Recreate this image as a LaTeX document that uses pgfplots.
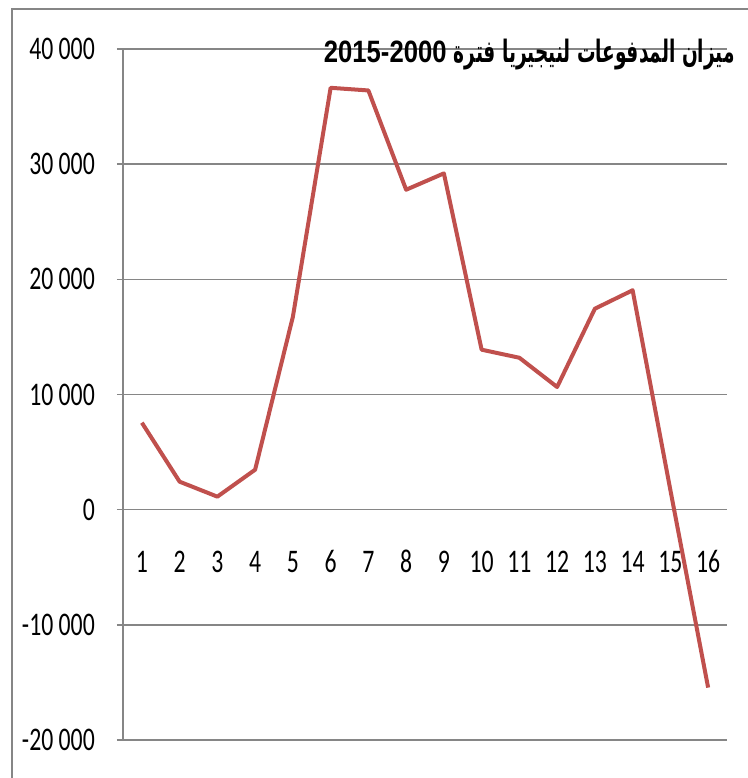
\documentclass[border=0pt]{standalone}
\usepackage{pgfplots}
\pgfplotsset{compat=1.18}
\usepackage{fontspec}
\TeXXeTstate=1
\newfontfamily\tickfont[FakeStretch=0.72]{Carlito}
\newfontfamily\arabicfont[Script=Arabic,FakeStretch=0.6]{DejaVu Sans}
\newfontfamily\titlenum[FakeStretch=0.83]{Liberation Sans}
\definecolor{linered}{RGB}{192,80,77}
\definecolor{gridgray}{RGB}{134,134,134}
\begin{document}
\begin{tikzpicture}
\path[use as bounding box] (0bp,0bp) rectangle (748bp,778bp);
\draw[gridgray, line width=2bp] (12bp,0bp) -- (12bp,769bp) -- (748bp,769bp);
\begin{axis}[
  at={(123bp,38bp)}, anchor=south west, scale only axis,
  width=604bp, height=691bp,
  xmin=0.5, xmax=16.5, ymin=-20000, ymax=40000,
  scaled y ticks=false,
  axis x line*=middle, axis y line*=left,
  xtick={1,...,16},
  xticklabels={1,2,3,4,5,6,7,8,9,10,11,12,13,14,15,16},
  ytick={-20000,-10000,0,10000,20000,30000,40000},
  yticklabels={-20~000,-10~000,0,10~000,20~000,30~000,40~000},
  ymajorgrids, grid style={gridgray, line width=1.5bp},
  x axis line style={draw=none},
  y axis line style={gridgray, line width=1.5bp},
  xtick style={draw=none},
  ytick style={gridgray, line width=1.5bp},
  tick align=outside, major tick length=6bp,
  ticklabel style={font=\tickfont\fontsize{33.1}{33.1}\selectfont, text=black},
  yticklabel style={anchor=east, inner sep=0pt, xshift=-22bp},
  xticklabel style={anchor=base, inner sep=0pt, yshift=-57bp},
  clip=false,
]
\addplot[linered, line width=4bp, line join=round] table {
x y
1 7550
2 2430
3 1130
4 3470
5 16750
6 36630
7 36400
8 27780
9 29200
10 13890
11 13190
12 10650
13 17450
14 19050
15 1700
16 -15450
};
\end{axis}
\node[anchor=base east, inner sep=0pt] at (735bp,715bp) {\titlenum\bfseries\fontsize{31}{31}\selectfont 2015-2000 {\arabicfont\bfseries\beginR ميزان المدفوعات لنيجيريا فترة\endR}};
\end{tikzpicture}
\end{document}
